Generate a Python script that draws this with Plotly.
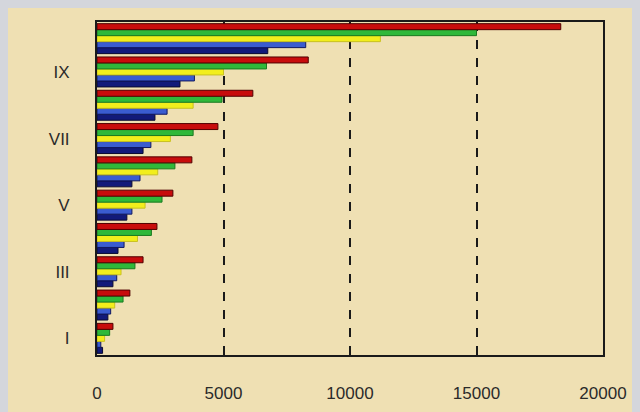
import plotly.graph_objects as go

groups = ["I", "II", "III", "IV", "V", "VI", "VII", "VIII", "IX", "X"]
tick_labels = ["I", "", "III", "", "V", "", "VII", "", "IX", ""]

series_red = [630, 1300, 1820, 2370, 3000, 3750, 4780, 6160, 8350, 18330]
series_green = [500, 1030, 1500, 2150, 2570, 3080, 3800, 4940, 6700, 15000]
series_yellow = [300, 700, 950, 1600, 1900, 2400, 2900, 3800, 5000, 11200]
series_blue = [150, 540, 780, 1070, 1380, 1700, 2130, 2770, 3850, 8250]
series_navy = [220, 430, 630, 830, 1180, 1380, 1820, 2290, 3280, 6750]

positions = list(range(1, len(groups) + 1))

fig = go.Figure()
# bottom-to-top order inside each group
for vals, fill, edge in [
    (series_navy, "#121a7a", "#0a0a30"),
    (series_blue, "#3a5cd0", "#101860"),
    (series_yellow, "#f2ee1c", "#c8c020"),
    (series_green, "#2fb83a", "#1a7a20"),
    (series_red, "#c80c0c", "#500000"),
]:
    fig.add_trace(go.Bar(
        y=positions, x=vals, orientation="h",
        marker=dict(color=fill, line=dict(color=edge, width=1)),
        showlegend=False,
    ))

fig.update_layout(
    width=640, height=412,
    barmode="group", bargap=0.1, bargroupgap=0.0,
    paper_bgcolor="#efe0b3", plot_bgcolor="#efe0b3",
    margin=dict(l=89, r=45, t=14, b=65),
    font=dict(family="Liberation Sans, Arial, sans-serif", size=17, color="#2a2a2a"),
)
fig.update_xaxes(
    range=[0, 20000], tickvals=[0, 5000, 10000, 15000, 20000],
    ticktext=["0", "5000", "10000", "15000", "20000"],
    showgrid=True, gridcolor="#1a1a1a", gridwidth=1.5, griddash="dash",
    showline=True, linecolor="#1a1a1a", linewidth=2, mirror=True,
    ticks="inside", ticklen=6, tickcolor="#1a1a1a",
    ticklabelstandoff=22, zeroline=False,
)
fig.update_yaxes(
    range=[0.5, 10.5], tickvals=positions, ticktext=tick_labels,
    showgrid=False, showline=True, linecolor="#1a1a1a", linewidth=2, mirror=True,
    ticks="", ticklabelstandoff=22, zeroline=False,
)

fig.write_html("out.html", post_script="document.body.style.background='#d4d6dc';")
